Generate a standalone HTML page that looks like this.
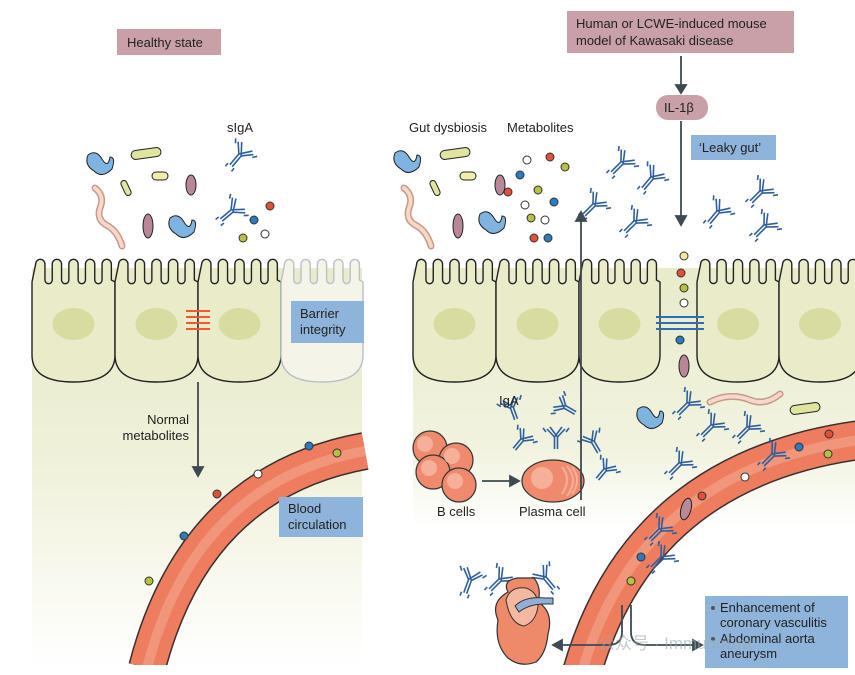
<!DOCTYPE html>
<html><head><meta charset="utf-8"><style>
body{margin:0;background:#fff;}
svg{display:block;font-family:"Liberation Sans","Noto Sans CJK SC",sans-serif;}
</style></head><body>
<svg id="s" width="855" height="675" viewBox="0 0 855 675" xmlns="http://www.w3.org/2000/svg">
<defs>
<linearGradient id="bg" x1="0" y1="0" x2="0" y2="1">
<stop offset="0" stop-color="#e9ebcc"/><stop offset="0.45" stop-color="#eef0d8"/><stop offset="1" stop-color="#ffffff"/></linearGradient>
<linearGradient id="bg2" x1="0" y1="0" x2="0" y2="1">
<stop offset="0" stop-color="#e9ebcc"/><stop offset="0.7" stop-color="#f1f3e0"/><stop offset="1" stop-color="#ffffff"/></linearGradient>
<g id="ab" stroke="#2f5f9e" stroke-width="1.6" fill="none">
<path d="M-1.5,0 L-1.5,12 M1.5,0 L1.5,12 M-1.5,0 L-9,-8 M1.5,0 L-6,-10 M1.5,0 L9,-8 M-1.5,0 L6,-10 M-10,-5 L-13,-9 M10,-5 L13,-9"/>
</g>
<g id="ab2" stroke="#2f5f9e" stroke-width="1.6" fill="none">
<path d="M-1.5,0 L-1.5,14 M1.5,0 L1.5,14 M-1.5,0 L-10,-9 M1.5,0 L-7,-11 M1.5,0 L10,-9 M-1.5,0 L7,-11 M-11,-6 L-14,-10 M11,-6 L14,-10 M-4,14 L-4,18 M4,14 L4,18"/>
</g>
</defs>
<rect x="32" y="268" width="330" height="400" fill="url(#bg)"/>
<rect x="413" y="268" width="442" height="260" fill="url(#bg2)"/>
<g id="cells"></g>
<!-- vessels -->
<path d="M147,668 Q195,482 365,451" fill="none" stroke="#3a3030" stroke-width="38"/>
<path d="M147,668 Q195,482 365,451" fill="none" stroke="#ee7c5e" stroke-width="35"/>
<path d="M147,668 Q195,482 365,451" fill="none" stroke="#f4a88e" stroke-width="10" opacity="0.6"/>
<path d="M582,672 Q640,470 860,440" fill="none" stroke="#3a3030" stroke-width="40"/>
<path d="M582,672 Q640,470 860,440" fill="none" stroke="#ee7c5e" stroke-width="37"/>
<path d="M582,672 Q640,470 860,440" fill="none" stroke="#f4a88e" stroke-width="10" opacity="0.6"/>
<rect x="0" y="665" width="855" height="10" fill="#fff"/>
<!-- dots in vessels -->
<g stroke="#333" stroke-width="1">
<circle cx="309" cy="446" r="4" fill="#2a7bc0"/><circle cx="337" cy="453" r="4" fill="#b8c040"/>
<circle cx="258" cy="474" r="4" fill="#fff"/><circle cx="217" cy="494" r="4" fill="#e0503a"/>
<circle cx="184" cy="536" r="4" fill="#2a7bc0"/><circle cx="149" cy="581" r="4" fill="#b8c040"/>
<circle cx="829" cy="434" r="4" fill="#e0503a"/><circle cx="828" cy="454" r="4" fill="#b8c040"/>
<circle cx="799" cy="447" r="4" fill="#2a7bc0"/><circle cx="745" cy="477" r="4" fill="#fff"/>
<circle cx="702" cy="496" r="4" fill="#e0503a"/><circle cx="641" cy="557" r="4" fill="#2a7bc0"/>
<circle cx="631" cy="581" r="4" fill="#b8c040"/>
<circle cx="684" cy="256" r="4" fill="#f0e8a0"/><circle cx="681" cy="273" r="4" fill="#e0503a"/>
<circle cx="684" cy="288" r="4" fill="#b8c040"/><circle cx="684" cy="303" r="4" fill="#fff"/>
<circle cx="680" cy="340" r="4" fill="#2a7bc0"/>
<circle cx="243" cy="238" r="4" fill="#b8c040"/><circle cx="254" cy="220" r="4" fill="#2a7bc0"/>
<circle cx="270" cy="206" r="4" fill="#e0503a"/><circle cx="265" cy="234" r="4" fill="#fff"/>
<circle cx="527" cy="160" r="4" fill="#fff"/><circle cx="550" cy="157" r="4" fill="#e0503a"/>
<circle cx="520" cy="175" r="4" fill="#2a7bc0"/><circle cx="565" cy="167" r="4" fill="#b8c040"/>
<circle cx="538" cy="190" r="4" fill="#b8c040"/><circle cx="508" cy="192" r="4" fill="#e0503a"/>
<circle cx="554" cy="202" r="4" fill="#2a7bc0"/><circle cx="525" cy="205" r="4" fill="#fff"/>
<circle cx="531" cy="218" r="4" fill="#b8c040"/><circle cx="545" cy="220" r="4" fill="#fff"/>
<circle cx="548" cy="238" r="4" fill="#2a7bc0"/><circle cx="534" cy="238" r="4" fill="#e0503a"/>
</g>
<!-- tight junctions -->
<g stroke="#f05a30" stroke-width="2"><path d="M186,311 H210 M186,317 H210 M186,323 H210 M186,329 H210"/></g>
<g stroke="#2a6fb8" stroke-width="2"><path d="M656,317 H704 M656,323 H704 M656,329 H704"/></g>
<!-- bacteria -->
<g stroke="#222" stroke-width="1">
<path d="M88,155 q8,-6 14,4 q6,10 8,-2 q6,0 2,12 q-10,10 -18,2 q-10,-6 -6,-16z" fill="#7fb3e0"/>
<path d="M170,218 q8,-6 14,4 q6,10 8,-2 q6,0 2,12 q-10,10 -18,2 q-10,-6 -6,-16z" fill="#7fb3e0"/>
<path d="M395,153 q8,-6 14,4 q6,10 8,-2 q6,0 2,12 q-10,10 -18,2 q-10,-6 -6,-16z" fill="#7fb3e0"/>
<path d="M480,214 q8,-6 14,4 q6,10 8,-2 q6,0 2,12 q-10,10 -18,2 q-10,-6 -6,-16z" fill="#7fb3e0"/>
<path d="M638,409 q8,-6 14,4 q6,10 8,-2 q6,0 2,12 q-10,10 -18,2 q-10,-6 -6,-16z" fill="#7fb3e0"/>
<rect x="131" y="149" width="30" height="9" rx="4.5" fill="#dfe49e" transform="rotate(-8 146 153)"/>
<rect x="440" y="149" width="30" height="9" rx="4.5" fill="#dfe49e" transform="rotate(-8 455 153)"/>
<rect x="790" y="404" width="30" height="9" rx="4.5" fill="#dfe49e" transform="rotate(-8 805 408)"/>
<rect x="152" y="172" width="16" height="8" rx="4" fill="#f0eea8"/>
<rect x="460" y="172" width="16" height="8" rx="4" fill="#f0eea8"/>
<rect x="123" y="180" width="6" height="16" rx="3" fill="#dfe49e" transform="rotate(-25 126 188)"/>
<rect x="432" y="180" width="6" height="16" rx="3" fill="#dfe49e" transform="rotate(-25 435 188)"/>
<ellipse cx="191" cy="185" rx="5" ry="10" fill="#b88898"/>
<ellipse cx="148" cy="226" rx="5" ry="12" fill="#b88898"/>
<ellipse cx="458" cy="226" rx="5" ry="12" fill="#b88898"/>
<ellipse cx="500" cy="185" rx="5" ry="10" fill="#b88898"/>
<ellipse cx="684" cy="366" rx="5" ry="11" fill="#b88898"/>
<ellipse cx="686" cy="509" rx="5" ry="11" fill="#b88898" transform="rotate(15 686 509)"/>
</g>
<g fill="none" stroke="#c59a8a" stroke-width="7" stroke-linecap="round" stroke-dasharray="6 2">
<path d="M95,188 q10,8 5,20 q-4,12 8,18 q10,6 14,20"/>
<path d="M404,188 q10,8 5,20 q-4,12 8,18 q10,6 14,20"/>
<path d="M710,402 q20,-10 40,-2 q15,6 30,-6"/>
</g>
<g fill="none" stroke="#f6d8c8" stroke-width="4" stroke-linecap="round" stroke-dasharray="6 2">
<path d="M95,188 q10,8 5,20 q-4,12 8,18 q10,6 14,20"/>
<path d="M404,188 q10,8 5,20 q-4,12 8,18 q10,6 14,20"/>
<path d="M710,402 q20,-10 40,-2 q15,6 30,-6"/>
</g>
<!-- antibodies -->
<use href="#ab2" transform="translate(240,155) rotate(40)"/>
<use href="#ab2" transform="translate(232,211) rotate(50)"/>
<use href="#ab2" transform="translate(622,163) rotate(45)"/>
<use href="#ab2" transform="translate(652,178) rotate(40)"/>
<use href="#ab2" transform="translate(594,205) rotate(45)"/>
<use href="#ab2" transform="translate(635,222) rotate(45)"/>
<use href="#ab2" transform="translate(718,212) rotate(40)"/>
<use href="#ab2" transform="translate(761,192) rotate(45)"/>
<use href="#ab2" transform="translate(765,226) rotate(45)"/>
<use href="#ab2" transform="translate(688,404) rotate(45)"/>
<use href="#ab2" transform="translate(712,426) rotate(45)"/>
<use href="#ab2" transform="translate(748,428) rotate(45)"/>
<use href="#ab2" transform="translate(680,464) rotate(45)"/>
<use href="#ab2" transform="translate(773,455) rotate(45)"/>
<use href="#ab2" transform="translate(660,530) rotate(45)"/>
<use href="#ab2" transform="translate(662,558) rotate(45)"/>
<use href="#ab2" transform="translate(470,580) rotate(20)"/>
<use href="#ab2" transform="translate(500,580) rotate(45)"/>
<use href="#ab2" transform="translate(545,578) rotate(-40)"/>
<use href="#ab" transform="translate(512,408) rotate(-20)"/>
<use href="#ab" transform="translate(565,407) rotate(-60)"/>
<use href="#ab" transform="translate(522,440) rotate(40)"/>
<use href="#ab" transform="translate(556,437) rotate(0)"/>
<use href="#ab" transform="translate(593,442) rotate(-30)"/>
<use href="#ab" transform="translate(605,470) rotate(40)"/>
<!-- B cells -->
<g stroke="#333" stroke-width="1.2" fill="#f08a6e">
<circle cx="430" cy="448" r="17"/><circle cx="456" cy="460" r="17"/>
<circle cx="433" cy="472" r="17"/><circle cx="459" cy="485" r="17"/>
<ellipse cx="553" cy="481" rx="31" ry="21"/>
</g>
<g fill="#f6b09a"><circle cx="425" cy="444" r="8"/><circle cx="452" cy="456" r="8"/><circle cx="429" cy="468" r="8"/><circle cx="455" cy="481" r="8"/><circle cx="542" cy="478" r="11"/></g>
<g fill="none" stroke="#f6b09a" stroke-width="2"><path d="M562,467 q10,12 0,27 M567,466 q12,14 0,30 M572,467 q10,13 0,27"/></g>
<!-- heart -->
<path d="M498,620 q-8,-18 10,-28 q-6,-12 10,-14 l16,0 q8,10 4,24 q16,10 10,32 q-2,20 -12,28 q-16,6 -28,-4 q-14,-14 -10,-38z" fill="#ee8a6a" stroke="#333" stroke-width="1.2"/>
<path d="M506,600 q4,-14 20,-12 q12,4 12,18 q-2,16 -14,20 q-14,-2 -18,-26z" fill="#f4b8a0" stroke="#333" stroke-width="1"/>
<path d="M515,606 q10,-10 30,-8 l8,0 l0,6 l-8,0 q-16,0 -26,8z" fill="#90b0d8" stroke="#333" stroke-width="1"/>
<!-- arrows -->
<g stroke="#3e4a52" stroke-width="1.8" fill="#3e4a52">
<path d="M198,382 V470" fill="none"/><path d="M193,467 L198,476 L203,467z"/>
<path d="M581,500 V218" fill="none"/><path d="M576,221 L581,212 L586,221z"/>
<path d="M681,56 V88" fill="none"/><path d="M676,85 L681,93 L686,85z"/>
<path d="M681,121 V219" fill="none"/><path d="M676,216 L681,225 L686,216z"/>
<path d="M482,481 H513" fill="none"/><path d="M510,476 L519,481 L510,486z"/>
<path d="M622,605 V632 Q622,645 608,645 H560 M631,605 V632 Q631,645 645,645 H695" fill="none"/>
<path d="M562,640 L553,645 L562,650z"/><path d="M693,640 L702,645 L693,650z"/>
</g>
<!-- boxes -->
<rect x="117" y="29" width="104" height="26" fill="#c9a0a8"/>
<rect x="291" y="301" width="73" height="42" fill="#8fb4dc"/>
<rect x="279" y="497" width="84" height="40" fill="#8fb4dc"/>
<rect x="567" y="11" width="227" height="42" fill="#c9a0a8"/>
<rect x="656" y="95" width="52" height="25" rx="12" fill="#c9a0a8"/>
<rect x="691" y="135" width="85" height="25" fill="#8fb4dc"/>
<rect x="705" y="596" width="143" height="72" fill="#8fb4dc"/>
<g font-size="13" fill="#222">
<text x="127" y="47">Healthy state</text>
<text x="300" y="318">Barrier</text><text x="300" y="334">integrity</text>
<text x="288" y="513">Blood</text><text x="288" y="529">circulation</text>
<text x="576" y="28">Human or LCWE-induced mouse</text>
<text x="576" y="45">model of Kawasaki disease</text>
<text x="664" y="112">IL-1β</text>
<text x="699" y="152">‘Leaky gut’</text>
<text x="227" y="132">sIgA</text>
<text x="409" y="132">Gut dysbiosis</text>
<text x="507" y="132">Metabolites</text>
<text x="189" y="424" text-anchor="end">Normal</text>
<text x="189" y="440" text-anchor="end">metabolites</text>
<text x="499" y="405">IgA</text>
<text x="437" y="516">B cells</text>
<text x="519" y="516">Plasma cell</text>
<text x="720" y="612">Enhancement of</text>
<text x="720" y="627">coronary vasculitis</text>
<text x="720" y="643">Abdominal aorta</text>
<text x="720" y="658">aneurysm</text>
</g>
<circle cx="713" cy="608" r="2" fill="#555"/><circle cx="713" cy="639" r="2" fill="#555"/>
<text x="598" y="649" font-size="17" fill="#9aa" opacity="0.6">公众号 · ImmunoEra</text>
</svg>
<script>
var g=document.getElementById('cells'),NS='http://www.w3.org/2000/svg';
function cell(x0,w,faded){var vw=w/5,d='M'+x0+',282';
for(var i=0;i<5;i++){var sx=x0+i*vw,a=sx+vw*0.22,b=sx+vw*0.78;
d+=' L'+a+',264 A'+(vw*0.28)+','+(vw*0.28)+' 0 0 1 '+b+',264 L'+b+',280';
if(i<4){d+=' A'+(vw*0.22)+','+(vw*0.22)+' 0 0 0 '+(sx+vw+vw*0.22)+',280';}else{d+=' L'+(x0+w)+',282';}}
d+=' L'+(x0+w)+',355 Q'+(x0+w)+',382 '+(x0+w/2)+',382 Q'+x0+',382 '+x0+',355 Z';
var p=document.createElementNS(NS,'path');p.setAttribute('d',d);
p.setAttribute('fill',faded?'#f4f5e8':'#eaecc9');p.setAttribute('stroke',faded?'#b8c0c8':'#222');p.setAttribute('stroke-width','1.4');g.appendChild(p);
if(!faded){var e=document.createElementNS(NS,'ellipse');e.setAttribute('cx',x0+w/2);e.setAttribute('cy',324);e.setAttribute('rx',21);e.setAttribute('ry',16);e.setAttribute('fill','#d9dca0');g.appendChild(e);}}
cell(32,83);cell(115,83);cell(198,83);cell(281,82,true);
cell(413,83);cell(496,83);cell(579,81);cell(697,82);cell(779,82);
</script>
</body></html>
